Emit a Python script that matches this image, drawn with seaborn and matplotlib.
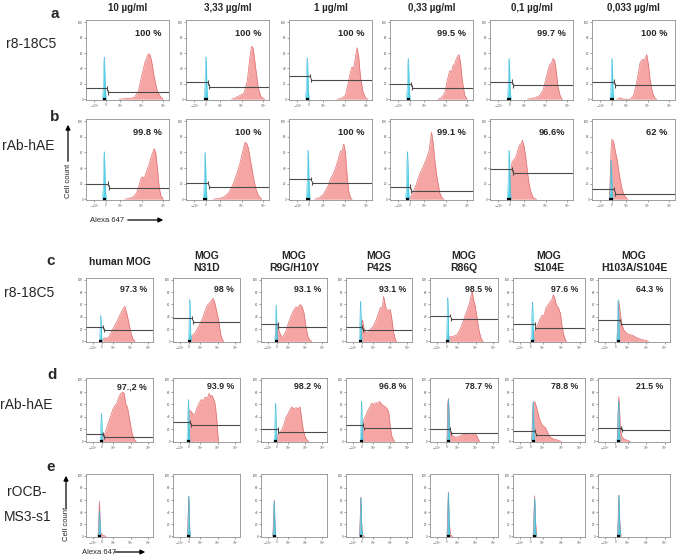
import numpy as np
import matplotlib
matplotlib.use("Agg")
import matplotlib.pyplot as plt
import seaborn as sns

W, H = 676, 556

# --- labels -------------------------------------------------------------
CONC_LABELS = ["10 µg/ml", "3,33 µg/ml", "1 µg/ml", "0,33 µg/ml", "0,1 µg/ml", "0,033 µg/ml"]
MUTANT_LABELS = ["human MOG", "MOG\nN31D", "MOG\nR9G/H10Y", "MOG\nP42S",
                 "MOG\nR86Q", "MOG\nS104E", "MOG\nH103A/S104E"]
XTICK_LABELS = ["$-10^3$", "0", "$10^3$", "$10^4$", "$10^5$"]
YTICK_LABELS = ["0", "20", "40", "60", "80", "100"]

PCT_A = ["100 %", "100 %", "100 %", "99.5 %", "99.7 %", "100 %"]
PCT_B = ["99.8 %", "100 %", "100 %", "99.1 %", "96.6%", "62 %"]
PCT_C = ["97.3 %", "98 %", "93.1 %", "93.1 %", "98.5 %", "97.6 %", "64.3 %"]
PCT_D = ["97.,2 %", "93.9 %", "98.2 %", "96.8 %", "78.7 %", "78.8 %", "21.5 %"]
PCT_E = [""] * 7

# --- isotype (cyan) peak: position on axis and height ------------------
CYAN_X_A = [0.22, 0.24, 0.22, 0.22, 0.23, 0.24]
CYAN_H_A = [55, 55, 54, 53, 53, 53]
CYAN_X_B = [0.22, 0.23, 0.23, 0.21, 0.23, 0.23]
CYAN_H_B = [61, 60, 63, 61, 63, 50]
CYAN_X_C = [0.22, 0.25, 0.23, 0.22, 0.26, 0.27, 0.28]
CYAN_H_C = [42, 68, 59, 65, 71, 64, 68]
CYAN_X_D = [0.23, 0.23, 0.22, 0.235, 0.27, 0.28, 0.285]
CYAN_H_D = [45, 68, 62, 65, 68, 64, 65]
CYAN_X_E = [0.20, 0.235, 0.20, 0.225, 0.27, 0.30, 0.29]
CYAN_H_E = [42, 66, 58, 64, 72, 62, 68]

# --- gates: split position, left bar level, right bar level -----------
GATE_X_A = [0.25, 0.27, 0.25, 0.25, 0.27, 0.27]
GATE_L_A = [14, 22, 30, 20, 23, 23]
GATE_R_A = [9, 16.5, 25, 15, 18, 18]
GATE_X_B = [0.26, 0.26, 0.26, 0.24, 0.26, 0.26]
GATE_L_B = [20, 21, 26, 16, 39, 13]
GATE_R_B = [15, 15.5, 21, 11, 34, 7]
GATE_X_C = [0.26, 0.29, 0.25, 0.25, 0.29, 0.30, 0.31]
GATE_L_C = [23, 38, 28, 23, 42, 28, 34]
GATE_R_C = [18, 32, 23, 18, 36, 22, 29]
GATE_X_D = [0.26, 0.26, 0.25, 0.26, 0.29, 0.31, 0.32]
GATE_L_D = [12, 31, 20, 27, 20, 17, 22]
GATE_R_D = [7, 27, 15, 21, 14, 11, 18]

# --- stained (red) histograms ------------------------------------------
red_a1_x = [0.40, 0.50, 0.58, 0.63, 0.67, 0.71, 0.75, 0.77, 0.79, 0.82, 0.86, 0.90, 0.93]
red_a1_y = [0, 1, 2, 10, 30, 48, 59, 58, 50, 30, 10, 3, 0]
red_a2_x = [0.55, 0.60, 0.65, 0.70, 0.74, 0.77, 0.79, 0.81, 0.84, 0.87, 0.90, 0.93, 0.95]
red_a2_y = [0, 2, 5, 8, 25, 55, 69, 66, 40, 15, 4, 1, 0]
red_a3_x = [0.58, 0.63, 0.68, 0.71, 0.74, 0.76, 0.78, 0.80, 0.82, 0.84, 0.86, 0.89, 0.92, 0.95]
red_a3_y = [0, 1, 5, 20, 35, 42, 40, 55, 67, 55, 30, 10, 2, 0]
red_a4_x = [0.58, 0.62, 0.66, 0.69, 0.72, 0.74, 0.76, 0.78, 0.80, 0.83, 0.85, 0.87, 0.90, 0.93]
red_a4_y = [0, 2, 8, 25, 37, 36, 44, 46, 53, 58, 48, 25, 5, 0]
red_a5_x = [0.45, 0.50, 0.55, 0.60, 0.64, 0.67, 0.70, 0.72, 0.74, 0.76, 0.78, 0.80, 0.82, 0.85, 0.87]
red_a5_y = [0, 1, 2, 5, 12, 25, 38, 45, 47, 53, 50, 35, 15, 3, 0]
red_a6_x = [0.30, 0.34, 0.38, 0.46, 0.50, 0.53, 0.56, 0.58, 0.61, 0.63, 0.66, 0.68, 0.70, 0.73, 0.76, 0.78]
red_a6_y = [0, 2, 0, 0, 5, 18, 35, 48, 52, 50, 58, 45, 25, 8, 1, 0]

red_b1_x = [0.47, 0.52, 0.57, 0.61, 0.64, 0.66, 0.68, 0.70, 0.73, 0.76, 0.79, 0.82, 0.84, 0.86, 0.88, 0.90, 0.93]
red_b1_y = [0, 1, 3, 8, 18, 26, 29, 26, 36, 45, 56, 65, 60, 40, 17, 5, 0]
red_b2_x = [0.33, 0.40, 0.46, 0.52, 0.57, 0.61, 0.65, 0.68, 0.71, 0.73, 0.75, 0.78, 0.81, 0.84, 0.87, 0.91]
red_b2_y = [0, 1, 3, 9, 20, 32, 46, 60, 73, 72, 66, 48, 29, 14, 5, 0]
red_b3_x = [0.31, 0.37, 0.42, 0.47, 0.50, 0.53, 0.56, 0.59, 0.62, 0.64, 0.66, 0.68, 0.70, 0.72, 0.74, 0.76]
red_b3_y = [0, 2, 7, 17, 26, 32, 40, 50, 62, 62, 71, 60, 30, 10, 2, 0]
red_b4_x = [0.23, 0.26, 0.29, 0.32, 0.36, 0.40, 0.44, 0.47, 0.50, 0.52, 0.54, 0.57, 0.60, 0.63, 0.65]
red_b4_y = [0, 5, 12, 20, 33, 42, 52, 62, 86, 72, 50, 25, 8, 1, 0]
red_b5_x = [0.22, 0.24, 0.26, 0.28, 0.30, 0.32, 0.34, 0.36, 0.38, 0.39, 0.41, 0.43, 0.45, 0.47, 0.49, 0.52, 0.56]
red_b5_y = [0, 20, 45, 50, 52, 57, 65, 70, 72, 76, 68, 55, 36, 20, 10, 2, 0]
red_b6_x = [0.21, 0.22, 0.23, 0.24, 0.26, 0.28, 0.30, 0.32, 0.34, 0.36, 0.38, 0.40, 0.43]
red_b6_y = [0, 30, 65, 77, 74, 62, 52, 38, 25, 14, 7, 3, 0]

red_c1_x = [0.24, 0.25, 0.28, 0.31, 0.35, 0.39, 0.43, 0.47, 0.51, 0.55, 0.58, 0.61, 0.64, 0.67, 0.70, 0.73]
red_c1_y = [0, 3, 6, 4, 9, 18, 26, 34, 44, 52, 57, 45, 30, 14, 4, 0]
red_c2_x = [0.24, 0.26, 0.29, 0.33, 0.37, 0.41, 0.45, 0.48, 0.51, 0.54, 0.57, 0.60, 0.62, 0.65, 0.68, 0.71, 0.74, 0.76]
red_c2_y = [0, 6, 10, 14, 22, 30, 40, 50, 58, 62, 66, 70, 64, 50, 35, 12, 2, 0]
red_c3_x = [0.22, 0.23, 0.25, 0.28, 0.31, 0.34, 0.37, 0.41, 0.45, 0.49, 0.53, 0.56, 0.59, 0.62, 0.65, 0.68, 0.71, 0.74, 0.77]
red_c3_y = [0, 25, 25, 15, 8, 9, 15, 28, 40, 50, 56, 55, 60, 57, 47, 25, 8, 2, 0]
red_c4_x = [0.22, 0.23, 0.25, 0.27, 0.30, 0.33, 0.37, 0.41, 0.45, 0.49, 0.52, 0.55, 0.57, 0.59,
            0.61, 0.64, 0.67, 0.69, 0.72, 0.75, 0.77]
red_c4_y = [0, 30, 35, 22, 14, 15, 20, 24, 33, 45, 55, 55, 73, 62, 52, 50, 52, 40, 15, 2, 0]
red_c5_x = [0.25, 0.27, 0.33, 0.39, 0.43, 0.47, 0.51, 0.55, 0.58, 0.60, 0.62, 0.64, 0.66, 0.69, 0.72, 0.75, 0.78]
red_c5_y = [0, 7, 8, 10, 17, 27, 40, 52, 62, 72, 82, 68, 60, 40, 18, 5, 0]
red_c6_x = [0.27, 0.28, 0.31, 0.34, 0.37, 0.40, 0.43, 0.46, 0.49, 0.52, 0.54, 0.56, 0.58, 0.60,
            0.63, 0.66, 0.68, 0.71, 0.74]
red_c6_y = [0, 12, 18, 26, 35, 42, 42, 55, 60, 65, 68, 76, 70, 60, 55, 45, 25, 8, 0]
red_c7_x = [0.27, 0.28, 0.29, 0.31, 0.33, 0.36, 0.40, 0.44, 0.48, 0.52, 0.56, 0.60, 0.65, 0.70]
red_c7_y = [0, 40, 65, 45, 28, 18, 13, 11, 10, 7, 5, 3, 2, 0]

red_d1_x = [0.23, 0.25, 0.28, 0.31, 0.34, 0.37, 0.40, 0.43, 0.46, 0.49, 0.52, 0.55, 0.57, 0.59,
            0.62, 0.64, 0.66, 0.69, 0.72, 0.75]
red_d1_y = [0, 5, 12, 22, 32, 42, 52, 58, 62, 72, 78, 80, 78, 62, 55, 42, 30, 12, 3, 0]
red_d2_x = [0.23, 0.24, 0.26, 0.28, 0.30, 0.33, 0.36, 0.39, 0.42, 0.45, 0.48, 0.51, 0.54, 0.56,
            0.58, 0.61, 0.63, 0.65, 0.67, 0.68]
red_d2_y = [0, 50, 50, 47, 44, 45, 55, 62, 68, 66, 72, 70, 78, 72, 75, 68, 60, 40, 10, 0]
red_d3_x = [0.24, 0.26, 0.29, 0.32, 0.35, 0.38, 0.41, 0.44, 0.47, 0.50, 0.53, 0.56, 0.59, 0.61,
            0.63, 0.66, 0.69, 0.72]
red_d3_y = [0, 12, 15, 20, 28, 40, 45, 52, 56, 52, 55, 53, 56, 42, 25, 10, 3, 0]
red_d4_x = [0.23, 0.25, 0.27, 0.30, 0.33, 0.36, 0.39, 0.42, 0.45, 0.48, 0.51, 0.54, 0.57, 0.60,
            0.63, 0.65, 0.67, 0.69, 0.72, 0.74]
red_d4_y = [0, 20, 35, 42, 50, 56, 62, 60, 63, 62, 65, 60, 58, 56, 52, 45, 25, 10, 2, 0]
red_d5_x = [0.25, 0.26, 0.27, 0.28, 0.29, 0.31, 0.34, 0.38, 0.42, 0.46, 0.50, 0.54, 0.58, 0.62,
            0.66, 0.69, 0.71, 0.73]
red_d5_y = [0, 60, 70, 50, 20, 12, 8, 7, 8, 10, 12, 11, 13, 13, 12, 9, 3, 0]
red_d6_x = [0.26, 0.27, 0.28, 0.30, 0.32, 0.34, 0.36, 0.38, 0.40, 0.42, 0.45, 0.48, 0.50, 0.53,
            0.56, 0.60, 0.64, 0.67]
red_d6_y = [0, 40, 62, 65, 58, 50, 40, 32, 28, 25, 22, 15, 9, 6, 4, 3, 1, 0]
red_d7_x = [0.27, 0.28, 0.29, 0.30, 0.31, 0.33, 0.36, 0.40, 0.45]
red_d7_y = [0, 50, 73, 50, 20, 8, 4, 2, 0]

red_e1_x = [0.18, 0.19, 0.20, 0.21, 0.22, 0.25, 0.30]
red_e1_y = [0, 25, 58, 30, 6, 2, 0]
red_e2_x = [0.215, 0.225, 0.235, 0.245, 0.255]
red_e2_y = [0, 30, 66, 25, 0]
red_e3_x = [0.18, 0.19, 0.20, 0.21, 0.22]
red_e3_y = [0, 28, 60, 25, 0]
red_e4_x = [0.205, 0.215, 0.225, 0.235, 0.25, 0.28]
red_e4_y = [0, 30, 65, 25, 3, 0]
red_e5_x = [0.25, 0.26, 0.27, 0.28, 0.30, 0.33]
red_e5_y = [0, 35, 73, 30, 3, 0]
red_e6_x = [0.28, 0.29, 0.30, 0.31, 0.33]
red_e6_y = [0, 30, 67, 28, 0]
red_e7_x = [0.27, 0.28, 0.29, 0.30, 0.32]
red_e7_y = [0, 30, 68, 28, 0]

RED_A = [(red_a1_x, red_a1_y), (red_a2_x, red_a2_y), (red_a3_x, red_a3_y),
         (red_a4_x, red_a4_y), (red_a5_x, red_a5_y), (red_a6_x, red_a6_y)]
RED_B = [(red_b1_x, red_b1_y), (red_b2_x, red_b2_y), (red_b3_x, red_b3_y),
         (red_b4_x, red_b4_y), (red_b5_x, red_b5_y), (red_b6_x, red_b6_y)]
RED_C = [(red_c1_x, red_c1_y), (red_c2_x, red_c2_y), (red_c3_x, red_c3_y), (red_c4_x, red_c4_y),
         (red_c5_x, red_c5_y), (red_c6_x, red_c6_y), (red_c7_x, red_c7_y)]
RED_D = [(red_d1_x, red_d1_y), (red_d2_x, red_d2_y), (red_d3_x, red_d3_y), (red_d4_x, red_d4_y),
         (red_d5_x, red_d5_y), (red_d6_x, red_d6_y), (red_d7_x, red_d7_y)]
RED_E = [(red_e1_x, red_e1_y), (red_e2_x, red_e2_y), (red_e3_x, red_e3_y), (red_e4_x, red_e4_y),
         (red_e5_x, red_e5_y), (red_e6_x, red_e6_y), (red_e7_x, red_e7_y)]

# --- style / layout (pixels, from top-left) ---------------------------
RED_FILL = "#f6a5a5"
RED_EDGE = "#e07070"
CYAN = "#45d2e8"
CYAN_EDGE = "#3bb4d6"
GATE_COL = "#4a4a4a"
FRAME_COL = "#8f8f8f"
XTICKS = [0.10, 0.24, 0.41, 0.67, 0.93]
YTICKS = [0, 20, 40, 60, 80, 100]
# spike outline used for the isotype peak (offsets along x, fraction of height)
SPIKE_DX = np.array([-0.024, -0.014, -0.006, -0.002, 0.002, 0.006, 0.014, 0.024])
SPIKE_FR = np.array([0.0, 0.2, 0.8, 1.0, 1.0, 0.8, 0.2, 0.0])

LEFTS_TOP = [86, 186, 289, 390, 490, 592]
WIDTHS_TOP = [83] * 6
LEFTS_BOT = [86, 173, 261, 346, 430, 513, 598]
WIDTHS_BOT = [67, 67, 66, 66, 68, 72, 72]


def add_panel(fig, left, top, w, h):
    return fig.add_axes([left / W, 1 - (top + h) / H, w / W, h / H])


def draw_panel(ax, red, cx, ch, gate, pct, pct_y, pct_size):
    rx, ry = red
    ax.fill_between(rx, ry, 0, color=RED_FILL, lw=0, zorder=2)
    sns.lineplot(x=rx, y=ry, ax=ax, color=RED_EDGE, lw=0.5, zorder=3,
                 estimator=None, sort=False)

    sx = cx + SPIKE_DX
    sy = ch * SPIKE_FR
    ax.fill_between(sx, sy, 0, color=CYAN, alpha=0.88, lw=0, zorder=4)
    ax.plot(sx, sy, color=CYAN_EDGE, lw=0.3, zorder=4)
    ax.plot([cx - 0.02, cx + 0.02], [0.5, 0.5], color="black", lw=1.6,
            solid_capstyle="butt", zorder=6, clip_on=False)

    if gate is not None:
        gx, gl, gr = gate
        kw = dict(color=GATE_COL, lw=0.8, zorder=5, solid_capstyle="butt")
        ax.plot([0, gx], [gl, gl], **kw)
        ax.plot([gx, gx], [gl - 3, gl + 3], **kw)
        ax.plot([gx + 0.012, 1], [gr, gr], **kw)
        ax.plot([gx + 0.012] * 2, [gr - 3, gr + 3], **kw)

    if pct:
        ax.text(0.91, pct_y, pct, ha="right", va="center",
                fontsize=pct_size, weight="bold", zorder=7)

    ax.set_xlim(0, 1)
    ax.set_ylim(-1, 103)
    ax.set_xticks(XTICKS)
    ax.set_xticklabels(XTICK_LABELS)
    ax.set_yticks(YTICKS)
    ax.set_yticklabels(YTICK_LABELS)
    ax.tick_params(labelsize=2.2, length=1.3, width=0.4, pad=0.8, colors="#555555")
    ax.set_xlabel("")
    ax.set_ylabel("")
    for sp in ax.spines.values():
        sp.set_visible(True)
        sp.set_color(FRAME_COL)
        sp.set_linewidth(0.6)


def draw_row(fig, lefts, widths, top, h, reds, cxs, chs, gxs, gls, grs, pcts, pct_y, pct_size):
    for i in range(len(lefts)):
        ax = add_panel(fig, lefts[i], top, widths[i], h)
        gate = None if gxs is None else (gxs[i], gls[i], grs[i])
        draw_panel(ax, reds[i], cxs[i], chs[i], gate, pcts[i], pct_y, pct_size)


def main():
    sns.set_style("ticks")
    plt.rcParams["font.family"] = ["Liberation Sans", "DejaVu Sans"]

    fig = plt.figure(figsize=(W / 100, H / 100), dpi=100)

    # overlay in pixel coords for labels and arrows
    ov = fig.add_axes([0, 0, 1, 1])
    ov.set_xlim(0, W)
    ov.set_ylim(H, 0)
    ov.set_axis_off()

    # section 1: titration
    for i, lab in enumerate(CONC_LABELS):
        ov.text(LEFTS_TOP[i] + WIDTHS_TOP[i] / 2, 8, lab, ha="center", va="center",
                fontsize=7, weight="bold")
    ov.text(55, 14, "a", ha="center", va="center", fontsize=11, weight="bold")
    ov.text(55, 117, "b", ha="center", va="center", fontsize=11, weight="bold")
    ov.text(31, 44, "r8-18C5", ha="center", va="center", fontsize=10)
    ov.text(28, 146, "rAb-hAE", ha="center", va="center", fontsize=10)

    draw_row(fig, LEFTS_TOP, WIDTHS_TOP, 20, 80, RED_A, CYAN_X_A, CYAN_H_A,
             GATE_X_A, GATE_L_A, GATE_R_A, PCT_A, 86, 6.7)
    draw_row(fig, LEFTS_TOP, WIDTHS_TOP, 119, 81, RED_B, CYAN_X_B, CYAN_H_B,
             GATE_X_B, GATE_L_B, GATE_R_B, PCT_B, 86, 6.7)

    ov.text(68, 181, "Cell count", rotation=90, ha="center", va="center", fontsize=5.5)
    ov.annotate("", xy=(68, 122), xytext=(68, 164),
                arrowprops=dict(arrowstyle="-|>", lw=0.9, color="black", mutation_scale=7))
    ov.text(90, 220, "Alexa 647", ha="left", va="center", fontsize=5.5)
    ov.annotate("", xy=(166, 220), xytext=(125, 220),
                arrowprops=dict(arrowstyle="-|>", lw=0.9, color="black", mutation_scale=7))

    # section 2: MOG mutants
    for i, lab in enumerate(MUTANT_LABELS):
        ov.text(LEFTS_BOT[i] + WIDTHS_BOT[i] / 2, 262, lab, ha="center", va="center",
                fontsize=7.5, weight="bold", linespacing=1.15)
    ov.text(51, 261, "c", ha="center", va="center", fontsize=11, weight="bold")
    ov.text(52, 375, "d", ha="center", va="center", fontsize=11, weight="bold")
    ov.text(51, 467, "e", ha="center", va="center", fontsize=11, weight="bold")
    ov.text(29, 293, "r8-18C5", ha="center", va="center", fontsize=10)
    ov.text(26, 405, "rAb-hAE", ha="center", va="center", fontsize=10)
    ov.text(27, 492, "rOCB-", ha="center", va="center", fontsize=10)
    ov.text(28, 517, "MS3-s1", ha="center", va="center", fontsize=10)

    draw_row(fig, LEFTS_BOT, WIDTHS_BOT, 278, 64, RED_C, CYAN_X_C, CYAN_H_C,
             GATE_X_C, GATE_L_C, GATE_R_C, PCT_C, 84, 6.3)
    draw_row(fig, LEFTS_BOT, WIDTHS_BOT, 378, 64, RED_D, CYAN_X_D, CYAN_H_D,
             GATE_X_D, GATE_L_D, GATE_R_D, PCT_D, 89, 6.3)
    draw_row(fig, LEFTS_BOT, WIDTHS_BOT, 474, 63, RED_E, CYAN_X_E, CYAN_H_E,
             None, None, None, PCT_E, 89, 6.3)

    ov.text(66, 524, "Cell count", rotation=90, ha="center", va="center", fontsize=5.5)
    ov.annotate("", xy=(66, 473), xytext=(66, 511),
                arrowprops=dict(arrowstyle="-|>", lw=0.9, color="black", mutation_scale=7))
    ov.text(82, 552, "Alexa 647", ha="left", va="center", fontsize=5.5)
    ov.annotate("", xy=(148, 552), xytext=(112, 552),
                arrowprops=dict(arrowstyle="-|>", lw=0.9, color="black", mutation_scale=7))

    fig.savefig("out.png", dpi=100)
    plt.close(fig)


if __name__ == "__main__":
    main()
